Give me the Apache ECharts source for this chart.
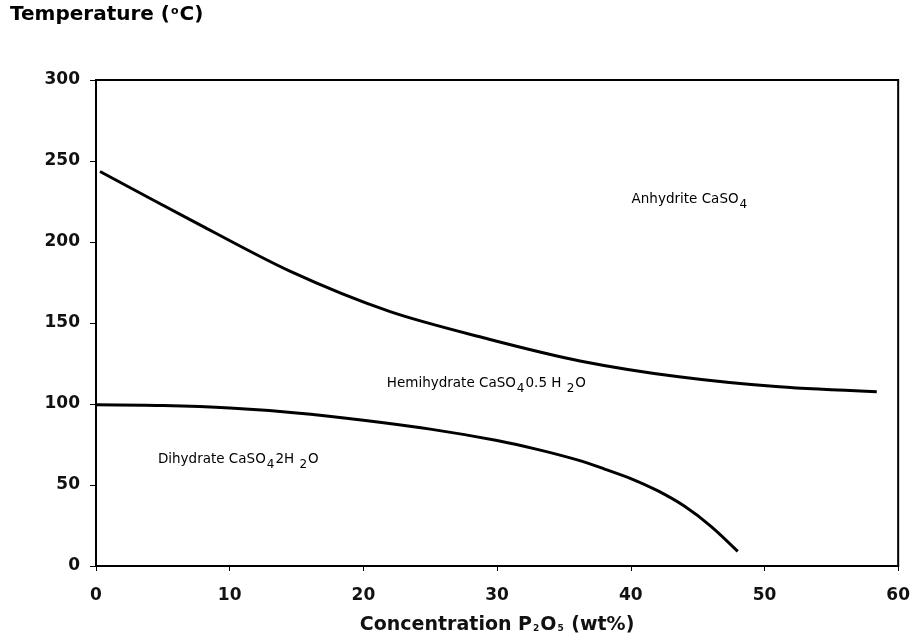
<!DOCTYPE html>
<html>
<head>
<meta charset="utf-8">
<script src="https://cdn.jsdelivr.net/npm/echarts@6/dist/echarts.min.js"></script>
<style>
  html, body { margin: 0; padding: 0; background: #fff; }
  #main { width: 913px; height: 640px; }
</style>
</head>
<body>
<div id="main"></div>
<script>
// upper boundary: hemihydrate / anhydrite
var anhydriteX = [0.3, 7, 14.5, 22, 29.4, 36.2, 43.6, 51.1, 58.4];
var anhydriteY = [243.5, 214, 182, 157, 140, 126.6, 116.8, 110.6, 107.6];
// lower boundary: dihydrate / hemihydrate
var dihydrateX = [0, 5, 10, 15, 20, 25, 30, 33, 36, 38, 40, 42, 44, 46, 48];
var dihydrateY = [99.5, 99, 97.5, 94.5, 90, 84.5, 77.5, 72, 65.5, 60, 54, 46.5, 37, 24.5, 9];
var xTicks = [0, 10, 20, 30, 40, 50, 60];
var yTicks = [0, 50, 100, 150, 200, 250, 300];

function pairs(xs, ys) {
    var out = [];
    for (var i = 0; i < xs.length; i++) out.push([xs[i], ys[i]]);
    return out;
}

var chart = echarts.init(document.getElementById('main'));
var font = 'DejaVu Sans, sans-serif';

var option = {
    backgroundColor: '#fff',
    animation: false,
    grid: {
        left: 96, right: 14, top: 80, bottom: 72,
        show: true, borderColor: '#000', borderWidth: 2
    },
    xAxis: {
        type: 'value', min: xTicks[0], max: xTicks[xTicks.length - 1], interval: xTicks[1] - xTicks[0],
        axisLine: { lineStyle: { color: '#000', width: 2 } },
        axisTick: { show: true, length: 5, lineStyle: { color: '#000', width: 1 } },
        splitLine: { show: false },
        axisLabel: { color: '#111', fontFamily: font, fontWeight: 'bold', fontSize: 17, margin: 21 },
        name: '{b|Concentration P}{s|2}{b|O}{s|5}{b| (wt%)}',
        nameLocation: 'middle', nameGap: 50,
        nameTextStyle: {
            rich: {
                b: { fontFamily: font, fontWeight: 'bold', fontSize: 19, color: '#111' },
                s: { fontFamily: font, fontWeight: 'bold', fontSize: 9, color: '#111', padding: [6, 1, 0, 1] }
            }
        }
    },
    yAxis: {
        type: 'value', min: yTicks[0], max: yTicks[yTicks.length - 1], interval: yTicks[1] - yTicks[0],
        axisLine: { show: true, lineStyle: { color: '#000', width: 2 } },
        axisTick: { show: true, length: 6, lineStyle: { color: '#000', width: 1 } },
        splitLine: { show: false },
        axisLabel: { color: '#111', fontFamily: font, fontWeight: 'bold', fontSize: 17, margin: 16, padding: [4, 0, 0, 0] }
    },
    series: [
        {
            type: 'line', data: pairs(anhydriteX, anhydriteY), smooth: 0.3,
            showSymbol: false, lineStyle: { color: '#000', width: 3 }
        },
        {
            type: 'line', data: pairs(dihydrateX, dihydrateY), smooth: 0.3,
            showSymbol: false, lineStyle: { color: '#000', width: 3 }
        }
    ]
};
chart.setOption(option);

var sub = { fontFamily: font, fontSize: 12, color: '#333', padding: [10, 1, 0, 1] };
var txt = { fontFamily: font, fontSize: 13.5, color: '#333' };
function place(x, y) { return chart.convertToPixel({ gridIndex: 0 }, [x, y]); }

var pA = place(40.06, 226);
var pH = place(21.75, 112.5);
var pD = place(4.63, 65.8);

chart.setOption({
    graphic: [
        {
            type: 'text', left: 10, top: 5,
            style: {
                text: '{b|Temperature (}{o|o}{b|C)}',
                rich: {
                    b: { fontFamily: font, fontWeight: 'bold', fontSize: 20, color: '#111' },
                    o: { fontFamily: font, fontWeight: 'bold', fontSize: 11, color: '#111', padding: [0, 1, 8, 1] }
                }
            }
        },
        {
            type: 'text', x: pA[0], y: pA[1],
            style: { text: '{t|Anhydrite CaSO}{s|4}', rich: { t: txt, s: sub }, verticalAlign: 'middle' }
        },
        {
            type: 'text', x: pH[0], y: pH[1],
            style: { text: '{t|Hemihydrate CaSO}{s|4}{t|0.5 H }{s|2}{t|O}', rich: { t: txt, s: sub }, verticalAlign: 'middle' }
        },
        {
            type: 'text', x: pD[0], y: pD[1],
            style: { text: '{t|Dihydrate CaSO}{s|4}{t|2H }{s|2}{t|O}', rich: { t: txt, s: sub }, verticalAlign: 'middle' }
        }
    ]
});
</script>
</body>
</html>
